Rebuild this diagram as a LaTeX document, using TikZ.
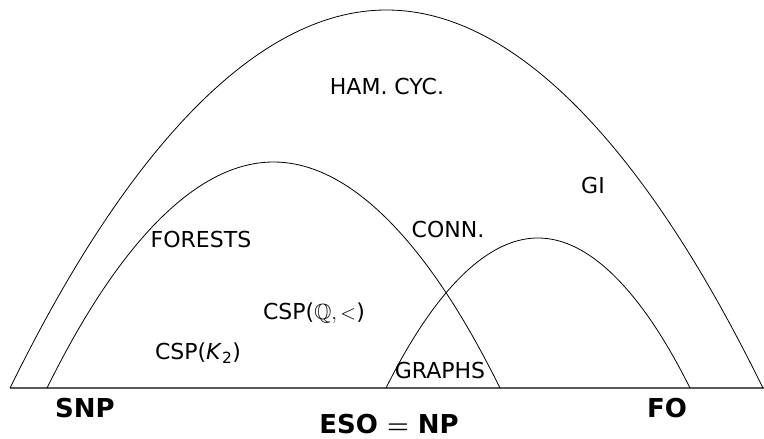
\documentclass[tikz,border=0pt]{standalone}
\usepackage{amssymb}
\usepackage{fontspec}
\setmainfont{DejaVu Sans}
\begin{document}
\begin{tikzpicture}[x=1pt,y=-1pt,
  arch/.style={black,line width=0.8pt},
  base/.style={gray!70!black,line width=1.3pt},
  lbl/.style={anchor=base,inner sep=0pt,font=\fontsize{22}{24}\selectfont},
  cls/.style={anchor=base,inner sep=0pt,font=\fontsize{26}{28}\selectfont\bfseries\boldmath}]
\useasboundingbox (0,0) rectangle (764,439);
% baseline
\coordinate (L) at (10,388);
\coordinate (R) at (764,388);
\draw[base] (L) -- (R);
% big arch (ESO = NP)
\coordinate (e1) at (10,388);
\coordinate (ep) at (386.5,10);
\coordinate (e2) at (763,388);
\draw[arch] (e1) parabola bend (ep) (e2);
% SNP arch
\coordinate (s1) at (47,388);
\coordinate (sp) at (273.5,162);
\coordinate (s2) at (500,388);
\draw[arch] (s1) parabola bend (sp) (s2);
% FO arch
\coordinate (f1) at (386,388);
\coordinate (fp) at (538,238);
\coordinate (f2) at (690,388);
\draw[arch] (f1) parabola bend (fp) (f2);
% labels
\node[lbl] (ham) at (387,94) {HAM. CYC.};
\node[lbl] (gi) at (593,193) {GI};
\node[lbl] (forests) at (201,247) {FORESTS};
\node[lbl] (conn) at (448,237) {CONN.};
\node[lbl] (cspq) at (314,319) {CSP($\mathbb{Q},<$)};
\node[lbl] (cspk) at (198,359) {CSP(\textit{K}\textsubscript{2})};
\node[lbl] (graphs) at (440,378) {GRAPHS};
\node[cls] (snp) at (85,417) {SNP};
\node[cls] (eso) at (389,433) {ESO $=$ NP};
\node[cls] (fo) at (667,417) {FO};
\end{tikzpicture}
\end{document}
